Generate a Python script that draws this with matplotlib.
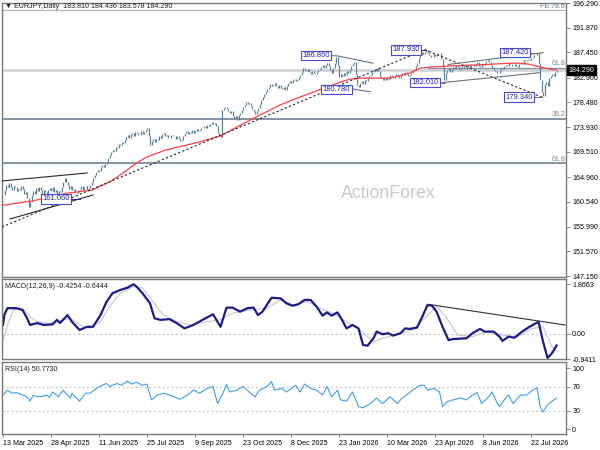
import matplotlib
matplotlib.use("Agg")
import matplotlib.pyplot as plt
import pandas as pd

plt.rcParams['font.family'] = ['Liberation Sans', 'DejaVu Sans']

# EURJPY daily closes (13 Mar 2025 .. mid Aug 2026)
close = [
    161.7, 162.6, 163.5, 163.2, 163.9, 163.1, 162.6, 163.4, 163.2, 162.5,
    162.9, 162.6, 163.3, 162.8, 162.0, 162.3, 161.2, 159.6, 160.4, 161.7,
    162.4, 162.0, 163.0, 162.5, 163.2, 162.6, 161.9, 162.7, 162.3, 161.8,
    162.6, 163.0, 162.4, 163.1, 162.2, 162.6, 161.9, 162.5, 162.3, 163.2,
    164.1, 164.8, 164.0, 163.5, 162.9, 163.3, 162.6, 162.9, 162.3, 162.1,
    162.6, 162.8, 163.4, 162.7, 163.1, 163.4, 162.6, 163.0, 163.6, 164.1,
    164.8, 165.4, 165.8, 166.3, 166.0, 166.8, 167.2, 166.7, 167.4, 167.7,
    168.4, 169.0, 169.5, 169.9, 169.6, 170.4, 170.2, 170.9, 170.8, 171.3,
    171.1, 171.7, 172.2, 172.6, 172.1, 172.7, 172.9, 172.4, 173.1, 172.9,
    172.5, 172.6, 173.2, 172.8, 173.1, 173.5, 173.8, 172.4, 170.8, 171.5,
    171.8, 171.3, 171.9, 171.7, 172.3, 172.0, 172.7, 173.0, 172.4, 172.6,
    172.1, 172.0, 172.6, 172.3, 172.4, 171.9, 172.3, 172.0, 171.5, 171.7,
    172.4, 173.0, 173.3, 172.8, 173.1, 172.9, 173.4, 172.9, 173.3, 173.6,
    173.2, 173.5, 173.9, 173.8, 174.2, 173.9, 174.4, 174.1, 174.6, 174.9,
    174.5, 174.7, 174.2, 172.9, 172.5, 172.2, 177.1, 177.4, 177.6, 177.2,
    176.8, 176.5, 176.9, 176.0, 175.6, 175.9, 175.3, 176.2, 176.6, 177.1,
    177.6, 178.0, 178.5, 178.2, 178.4, 177.8, 177.3, 176.9, 176.3, 176.9,
    177.4, 178.1, 178.9, 179.4, 179.9, 180.3, 180.8, 181.2, 181.7, 181.3,
    181.6, 181.9, 181.4, 181.0, 181.5, 181.1, 180.8, 181.2, 180.7, 181.3,
    181.9, 182.3, 182.0, 182.4, 182.6, 182.2, 182.5, 183.0, 183.4, 183.9,
    184.6, 184.3, 184.0, 184.4, 183.9, 183.6, 184.1, 183.8, 183.6, 183.9,
    184.2, 184.5, 184.8, 185.1, 184.7, 185.2, 185.5, 184.9, 184.2, 183.7,
    184.6, 185.6, 186.6, 185.2, 183.0, 183.5, 183.2, 183.7, 183.4, 184.0,
    183.8, 184.3, 184.9, 185.3, 185.7, 183.6, 181.6, 181.2, 181.9, 182.2,
    181.8, 182.5, 182.2, 182.8, 183.1, 183.4, 183.9, 184.3, 184.0, 184.6,
    184.1, 183.2, 182.9, 182.5, 182.8, 182.5, 183.0, 182.7, 183.4, 183.1,
    182.8, 183.0, 183.5, 183.2, 182.9, 183.4, 183.7, 183.3, 183.9, 183.6,
    183.2, 183.4, 183.8, 184.0, 184.3, 184.9, 185.6, 186.4, 186.9, 187.5,
    187.2, 187.6, 187.9, 187.4, 187.0, 186.7, 186.6, 187.1, 186.8, 187.0,
    187.4, 187.3, 186.2, 184.8, 182.5, 183.8, 184.3, 184.6, 183.9, 184.3,
    184.8, 184.5, 185.2, 184.9, 184.3, 184.6, 185.0, 184.7, 184.4, 184.8,
    185.1, 184.8, 185.3, 185.4, 185.0, 185.4, 185.7, 185.0, 184.8, 185.3,
    185.2, 185.6, 185.9, 186.1, 185.7, 185.2, 184.6, 184.2, 184.0, 183.7,
    183.8, 184.2, 184.6, 184.4, 184.9, 185.2, 185.0, 185.5, 185.3, 184.9,
    185.0, 185.4, 184.9, 184.8, 185.3, 185.6, 185.4, 186.1, 185.8, 186.0,
    186.2, 186.0, 186.4, 186.6, 186.9, 187.0, 187.3, 185.5, 182.5, 180.3,
    179.6, 181.7, 182.1, 181.4, 182.8, 183.2, 183.6, 183.2, 183.9, 184.29,
]

# red moving average (bar index, value)
ma_idx = [0, 20, 43, 59, 71, 80, 89, 96, 109, 131, 140, 145, 165, 185, 198, 211,
          225, 231, 238, 251, 258, 271, 278, 285, 298, 318, 338, 345, 351, 358, 365, 369]
ma_val = [159.9, 160.7, 162.1, 162.6, 164.1, 165.7, 167.5, 168.6, 169.9, 171.3, 172.0,
          172.4, 175.3, 178.0, 179.4, 180.7, 182.1, 182.6, 182.8, 182.8, 182.8, 183.7,
          184.6, 184.8, 185.0, 185.2, 185.5, 185.5, 185.3, 184.8, 184.4, 184.3]

# MACD main line
macd_idx = [0, 1, 3, 9, 13, 16, 18, 23, 27, 33, 36, 38, 43, 46, 51, 56, 60, 65, 69, 73,
            78, 83, 87, 89, 93, 98, 101, 105, 111, 116, 121, 127, 133, 140, 143, 145, 149,
            153, 158, 163, 167, 170, 173, 179, 185, 189, 193, 197, 201, 205, 209, 213, 216,
            219, 223, 226, 229, 233, 237, 240, 243, 247, 249, 253, 257, 260, 265, 268, 271,
            276, 279, 283, 286, 289, 293, 297, 300, 309, 313, 318, 321, 327, 331, 333, 337,
            341, 346, 351, 357, 360, 363, 366, 369]
macd_val = [0.34, 0.74, 0.97, 0.97, 0.90, 0.60, 0.34, 0.41, 0.34, 0.36, 0.53, 0.41, 0.71,
            0.46, 0.15, 0.27, 0.27, 0.71, 1.21, 1.53, 1.65, 1.74, 1.87, 1.78, 1.53, 1.15,
            0.59, 0.53, 0.56, 0.40, 0.21, 0.34, 0.53, 0.74, 0.46, 0.27, 0.99, 0.99, 0.84,
            0.97, 0.99, 0.71, 0.84, 1.36, 1.34, 1.15, 1.06, 1.12, 1.28, 1.28, 1.03, 0.69,
            0.81, 0.69, 0.81, 0.53, 0.21, 0.34, 0.21, -0.41, -0.44, -0.16, 0.09, -0.01,
            0.03, -0.06, 0.03, 0.21, 0.19, 0.24, 0.59, 1.09, 1.06, 0.84, 0.27, -0.23, -0.19,
            -0.16, 0.03, 0.19, 0.09, 0.09, -0.10, -0.26, -0.10, -0.14, 0.09, 0.27, 0.46,
            -0.29, -0.90, -0.72, -0.43]

# MACD signal line
sig_idx = [0, 3, 7, 13, 18, 23, 31, 45, 51, 58, 65, 71, 78, 87, 93, 100, 107, 116, 125,
           136, 145, 153, 165, 176, 185, 193, 203, 211, 220, 229, 238, 247, 253, 263, 273,
           283, 289, 296, 303, 313, 323, 333, 343, 353, 360, 366, 369]
sig_val = [-0.29, 0.34, 0.90, 0.97, 0.65, 0.46, 0.40, 0.59, 0.34, 0.21, 0.46, 1.03, 1.53,
           1.78, 1.72, 1.21, 0.71, 0.46, 0.34, 0.46, 0.53, 0.78, 0.90, 0.97, 1.28, 1.09,
           1.21, 0.97, 0.78, 0.46, 0.15, -0.30, -0.16, -0.01, 0.15, 0.71, 1.03, 0.59,
           -0.04, -0.10, 0.09, -0.04, -0.10, 0.21, 0.27, -0.48, -0.64]

# RSI(14)
rsi_idx = [0, 3, 6, 9, 13, 16, 18, 20, 25, 29, 31, 33, 37, 40, 43, 45, 46, 51, 55, 58,
           63, 66, 69, 71, 76, 79, 83, 86, 89, 93, 96, 97, 99, 103, 107, 111, 118, 123,
           127, 131, 136, 140, 143, 147, 149, 151, 156, 160, 165, 168, 171, 176, 179, 181,
           186, 189, 195, 198, 201, 205, 209, 213, 216, 219, 223, 225, 229, 233, 237, 240,
           245, 249, 253, 258, 263, 266, 269, 273, 278, 281, 283, 287, 291, 293, 296, 300,
           305, 309, 313, 316, 319, 323, 326, 329, 331, 335, 337, 340, 345, 349, 353, 356,
           358, 360, 363, 366, 369]
rsi_val = [56, 64, 59, 60, 56, 53, 46, 55, 53, 56, 52, 61, 53, 64, 56, 51, 59, 46, 59, 59,
           68, 72, 75, 70, 75, 72, 79, 74, 77, 72, 74, 64, 48, 56, 59, 56, 49, 56, 64, 59,
           67, 70, 42, 61, 74, 61, 64, 70, 59, 53, 64, 70, 78, 64, 67, 61, 72, 61, 74, 67,
           64, 56, 70, 53, 64, 48, 46, 61, 37, 35, 42, 51, 42, 53, 42, 51, 56, 64, 72, 72,
           64, 67, 61, 37, 45, 48, 51, 48, 56, 60, 42, 51, 61, 45, 37, 51, 56, 42, 56, 56,
           64, 68, 37, 28, 40, 46, 51]

price_ticks = [196.290, 191.870, 187.450, 182.900, 178.480, 173.930,
               169.510, 164.960, 160.540, 155.990, 151.570, 147.150]

# swing labels: (bar index of box centre, price, text)
swing_tags = [(208.7, 186.86, '186.860'), (222.3, 180.78, '180.780'),
              (268.7, 187.93, '187.930'), (281.3, 182.01, '182.010'),
              (341.3, 187.42, '187.420'), (344.0, 179.34, '179.340'),
              (35.3, 161.06, '161.060')]

# fibonacci levels (price, label, label price)
fib_levels = [(175.44, '38.2', 176.16), (167.57, '61.8', 168.23)]

W, H = 600.0, 450.0


def rect(left, top, right, bottom):
    return [left / W, 1 - bottom / H, (right - left) / W, (bottom - top) / H]


fig = plt.figure(figsize=(6, 4.5), dpi=100)
ax = fig.add_axes(rect(2, 2.5, 566, 277))
am = fig.add_axes(rect(2, 279, 566, 359.3))
ar = fig.add_axes(rect(2, 362.3, 566, 434))

x_lo, x_hi = -0.67, 375.3
fs = 5.1
frame = '#7a7a7a'

for a in (ax, am, ar):
    a.set_xlim(x_lo, x_hi)
    for s in a.spines.values():
        s.set_color(frame)
        s.set_linewidth(1.0)
    a.yaxis.tick_right()
    a.tick_params(axis='y', length=3, width=0.6, labelsize=fs, pad=1.5, colors='black')
    a.tick_params(axis='y', color=frame)
    a.set_xticks([])

# ---- main price panel
ax.set_ylim(146.97, 196.43)
ax.set_yticks(price_ticks)
ax.set_yticklabels(['%.3f' % v for v in price_ticks])

# fib / price lines
ax.axhline(194.99, color='#b8b8b8', lw=0.9)
ax.axhline(184.29, color='#cfcfcf', lw=1.8)
ax.plot([283, x_hi], [184.55, 184.55], color='#8a9aa6', lw=1.0)
for lvl, txt, ty in fib_levels:
    ax.axhline(lvl, color='#8494a0', lw=1.4)
    ax.text(374.7, ty, txt, fontsize=fs, color='#6f8796', ha='right', va='center')
ax.text(374.7, 185.52, '61.8', fontsize=fs, color='#6f8796', ha='right', va='center')
ax.text(374.7, 195.75, 'FE 78.6', fontsize=fs, color='#5f7786', ha='right', va='center')

# bars: each bar from previous close to close
prev = [close[0]] + close[:-1]
lo = [min(a, b) for a, b in zip(prev, close)]
hi = [max(a, b) for a, b in zip(prev, close)]
ax.vlines(range(len(close)), lo, hi, color='#5b8199', lw=0.85, zorder=3)

ax.plot(ma_idx, ma_val, color='#ff4040', lw=0.9, zorder=4)

# trend lines
dark = '#262626'
slate = '#64747f'
ax.plot([-0.7, 56], [164.27, 165.71], color=dark, lw=0.8, zorder=4)
ax.plot([4.7, 60], [157.42, 161.75], color=dark, lw=0.8, zorder=4)
ax.plot([-0.7, 281], [155.98, 187.93], color=dark, lw=0.8, ls=(0, (2, 2)), zorder=4)
ax.plot([281, 359.5], [187.93, 179.34], color=dark, lw=0.8, ls=(0, (2, 2)), zorder=4)
ax.plot([219.3, 223, 246.7], [186.86, 186.8, 185.5], color=slate, lw=0.8, zorder=4)
ax.plot([232.7, 244.7], [180.85, 180.36], color=slate, lw=0.8, zorder=4)
ax.plot([292.7, 358], [181.99, 183.79], color=slate, lw=0.8, zorder=4)
ax.plot([296.7, 360], [185.26, 187.39], color=slate, lw=0.8, zorder=4)
# short connectors from the labels to the bars
ax.plot([279.3, 282], [187.93, 187.93], color=dark, lw=0.7, zorder=4)
ax.plot([292, 294.7], [182.01, 182.01], color=slate, lw=0.7, zorder=4)
ax.plot([352, 356], [187.42, 187.42], color=slate, lw=0.7, zorder=4)
ax.plot([354.7, 359.3], [179.34, 179.34], color=slate, lw=0.7, zorder=4)
ax.plot([46, 51.3], [161.06, 161.06], color='#2020a0', lw=0.7, zorder=4)

for xi, p, txt in swing_tags:
    ax.text(xi, p, txt, fontsize=5.4, color='#2323a0', ha='center', va='center', zorder=6,
            bbox=dict(boxstyle='square,pad=0.18', fc='white', ec='#4a4ad0', lw=0.8))

fig.text(388 / W, 1 - 194 / H, 'ActionForex', fontsize=12.8, color='#c9c9c9',
         ha='center', va='center')
fig.text(5 / W, 1 - 7 / H, '\u25bc EURJPY,Daily  183.810 184.436 183.578 184.290',
         fontsize=fs, color='#202020', ha='left', va='center')
fig.text(568.5 / W, 1 - 70 / H, '184.290', fontsize=fs, color='white', ha='left', va='center',
         bbox=dict(boxstyle='square,pad=0.2', fc='black', ec='black'))

# ---- MACD panel
am.set_ylim(-0.95, 2.065)
am.axhline(0, color='#c4c4c4', lw=0.8, ls=(0, (2, 2)))
am.plot(sig_idx, sig_val, color='#c8c8c8', lw=0.8)
am.plot(macd_idx, macd_val, color='#1b1b8c', lw=1.6)
am.plot([283.3, 374.7], [1.115, 0.338], color='#303030', lw=0.8)
am.set_yticks([1.8663, 0.0, -0.9411])
am.set_yticklabels(['1.8663', '0.00', '-0.9411'])
fig.text(5 / W, 1 - 286.5 / H, 'MACD(12,26,9) -0.4254 -0.6444', fontsize=fs,
         color='#202020', ha='left', va='center')

# ---- RSI panel
ar.set_ylim(-8.2, 109.9)
for lvl in (70, 30):
    ar.axhline(lvl, color='#c4c4c4', lw=0.8, ls=(0, (2, 2)))
ar.plot(rsi_idx, rsi_val, color='#3d9df2', lw=0.8)
ar.set_yticks([100, 70, 30, 0])
ar.set_yticklabels(['100', '70', '30', '0'])
fig.text(5 / W, 1 - 369.5 / H, 'RSI(14) 50.7730', fontsize=fs,
         color='#202020', ha='left', va='center')

# date axis
days = pd.bdate_range('2025-03-13', '2026-09-30')
holiday = ((days.month == 12) & (days.day == 25)) | ((days.month == 1) & (days.day == 1))
days = days[~holiday][:len(close)]
date_pos = list(range(0, len(close), 32))
date_lbl = [f"{days[k].day} {days[k]:%b %Y}" for k in date_pos]
ar.set_xticks(date_pos)
ar.set_xticklabels(date_lbl)
ar.tick_params(axis='x', length=2, width=0.6, color=frame, labelsize=fs, pad=2)
for t in ar.get_xticklabels():
    t.set_ha('left')

fig.savefig('out.png', dpi=100)
